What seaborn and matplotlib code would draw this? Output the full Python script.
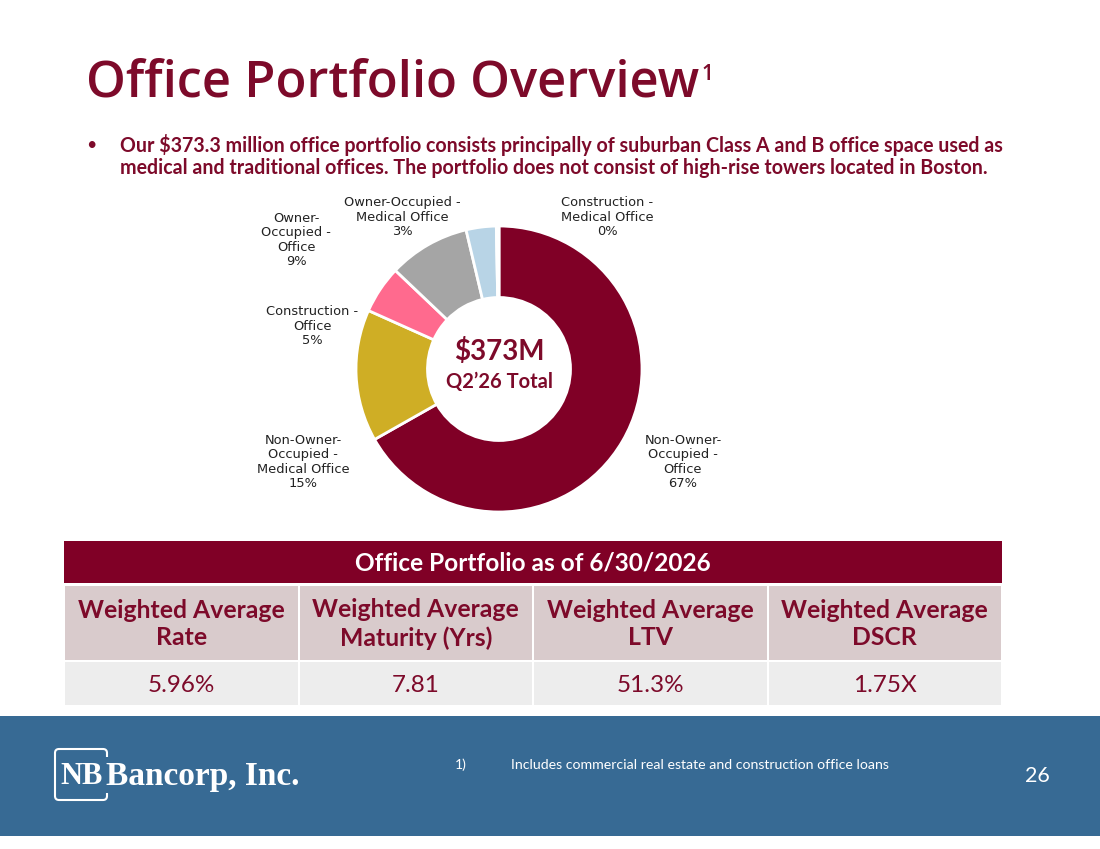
import matplotlib
matplotlib.use("Agg")
import matplotlib.pyplot as plt
import matplotlib.patches as mpatches
import seaborn as sns

# Donut data (share of office portfolio, %)
segments = ["Non-Owner-Occupied - Office", "Non-Owner-Occupied - Medical Office",
            "Construction - Office", "Owner-Occupied - Office",
            "Owner-Occupied - Medical Office", "Construction - Medical Office"]
shares = [66.8, 14.9, 5.4, 9.2, 3.4, 0.3]
share_labels = ["67%", "15%", "5%", "9%", "3%", "0%"]
seg_colors = ["#800026", "#CFAE25", "#FF6A8E", "#A5A5A5", "#B8D4E6", "#800026"]

# Table data
table_title = "Office Portfolio as of 6/30/2026"
col_heads = ["Weighted Average\nRate", "Weighted Average\nMaturity (Yrs)",
             "Weighted Average\nLTV", "Weighted Average\nDSCR"]
col_values = ["5.96%", "7.81", "51.3%", "1.75X"]

maroon = "#7D0A2A"
dark_red = "#800026"
footer_blue = "#376A94"

sns.set_theme(style="white")
plt.rcParams['font.family'] = ['Lato', 'DejaVu Sans']

W, H = 1100, 849
fig = plt.figure(figsize=(W / 100, H / 100), dpi=100)
fig.patch.set_facecolor("white")

# full-slide axes in pixel coordinates
slide = fig.add_axes([0, 0, 1, 1])
slide.set_xlim(0, W)
slide.set_ylim(H, 0)
slide.axis("off")

# title (with small superscript) and bullet text
title = slide.text(86, 96, "Office Portfolio Overview", fontsize=36.5, color=maroon,
                   family=["Open Sans", "DejaVu Sans"], weight="semibold",
                   va="baseline", ha="left")
fig.canvas.draw()
bb = title.get_window_extent().transformed(slide.transData.inverted())
slide.text(bb.x1 + 2, 64, "1", fontsize=15, color=maroon,
           family=["Open Sans", "DejaVu Sans"], weight="semibold", va="top", ha="left")

slide.text(86, 145, "\u2022", fontsize=13, color=maroon, va="center")
slide.text(120, 145, "Our $373.3 million office portfolio consists principally of suburban Class A and B office space used as",
           fontsize=14.15, color=maroon, weight="bold", va="center")
slide.text(120, 168, "medical and traditional offices. The portfolio does not consist of high-rise towers located in Boston.",
           fontsize=14.15, color=maroon, weight="bold", va="center")

# donut
cx, cy, r = 499, 369, 143
donut = fig.add_axes([(cx - r) / W, (H - cy - r) / H, 2 * r / W, 2 * r / H])
donut.pie(shares, colors=seg_colors, startangle=90, counterclock=False,
          wedgeprops=dict(width=0.5, edgecolor="white", linewidth=2))
donut.set_xlim(-1, 1)
donut.set_ylim(-1, 1)
donut.set_aspect("equal")
donut.axis("off")
donut.text(0, 0.12, "$373M", ha="center", va="center", fontsize=20, weight="bold", color=maroon)
donut.text(0, -0.09, "Q2\u201926 Total", ha="center", va="center", fontsize=14.5, weight="bold", color=maroon)

# donut labels (slide pixel positions)
label_pos = [(683, 462, "Non-Owner-\nOccupied -\nOffice"),
             (303, 462, "Non-Owner-\nOccupied -\nMedical Office"),
             (312, 326, "Construction -\nOffice"),
             (296, 240, "Owner-\nOccupied -\nOffice"),
             (402, 217, "Owner-Occupied -\nMedical Office"),
             (607, 217, "Construction -\nMedical Office")]
for (x, y, name), pct in zip(label_pos, share_labels):
    slide.text(x, y, name + "\n" + pct, ha="center", va="center", fontsize=9.4,
               color="#222222", family=["DejaVu Sans"], linespacing=1.15)

# table
tx0, tx1 = 64, 1002
col_w = (tx1 - tx0) / len(col_heads)
slide.add_patch(mpatches.Rectangle((tx0, 541), tx1 - tx0, 42, color=dark_red, lw=0))
slide.text((tx0 + tx1) / 2, 563, table_title, ha="center", va="center",
           fontsize=17.6, weight="bold", color="white")
for i, (head, val) in enumerate(zip(col_heads, col_values)):
    x = tx0 + i * col_w
    slide.add_patch(mpatches.Rectangle((x + 1, 586), col_w - 2, 74, color="#D9CBCC", lw=0))
    slide.add_patch(mpatches.Rectangle((x + 1, 662), col_w - 2, 43, color="#EDEDED", lw=0))
    slide.text(x + col_w / 2, 624, head, ha="center", va="center", fontsize=17.8,
               weight="bold", color=maroon, linespacing=1.25)
    slide.text(x + col_w / 2, 685, val, ha="center", va="center", fontsize=17.5, color=maroon)

# footer band
slide.add_patch(mpatches.Rectangle((0, 716), W, 120, color=footer_blue, lw=0))
slide.add_patch(mpatches.FancyBboxPatch((55, 749), 52, 51, boxstyle="round,pad=0,rounding_size=4",
                                        fill=False, edgecolor="white", lw=1.5))
slide.add_patch(mpatches.Rectangle((103, 757), 8, 36, color=footer_blue, lw=0))
slide.text(60, 776, "NB", ha="left", va="center", fontsize=22, color="white",
           family=["Liberation Serif"], weight="bold")
slide.text(106, 776, "Bancorp, Inc.", ha="left", va="center", fontsize=24, color="white",
           family=["Liberation Serif"], weight="bold")
slide.text(455, 765, "1)", ha="left", va="center", fontsize=10, color="white")
slide.text(511, 765, "Includes commercial real estate and construction office loans",
           ha="left", va="center", fontsize=10.2, color="white")
slide.text(1037, 776, "26", ha="center", va="center", fontsize=15.5, color="white")

fig.savefig("out.png", dpi=100)
